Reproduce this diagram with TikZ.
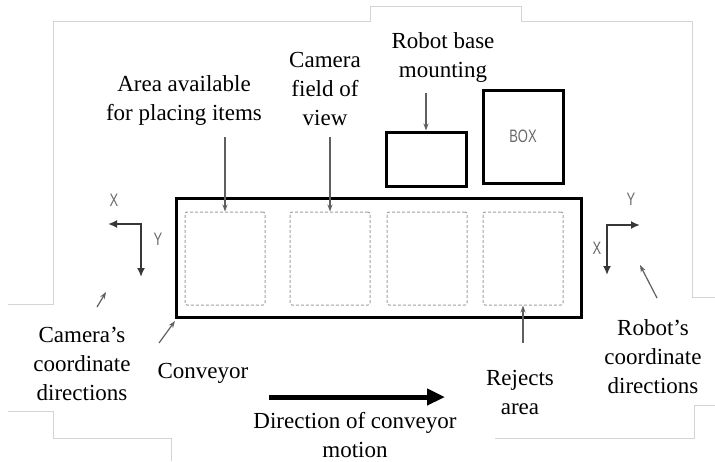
\documentclass[tikz,border=0pt]{standalone}
\usepackage{fontspec}
\setmainfont{Liberation Serif}
\newfontfamily\axisfont{Liberation Sans}
\usetikzlibrary{arrows.meta}
\definecolor{framegray}{RGB}{212,212,212}
\definecolor{axisgray}{RGB}{55,55,55}
\definecolor{leadgray}{RGB}{95,95,95}
\definecolor{lettergray}{RGB}{105,105,105}
\tikzset{
  label text/.style={font=\fontsize{23}{29}\selectfont, align=center, inner sep=0pt},
  heavybox/.style={draw=black, line width=3pt, inner sep=0pt},
  zone/.style={draw=gray!75, line width=1pt, dash pattern=on 3pt off 2pt,
    rounded corners=2pt, inner sep=0pt, minimum width=80pt, minimum height=93pt},
  leader/.style={draw=leadgray, line width=1.2pt, -{Stealth[length=7pt,width=5pt]}},
  axis/.style={draw=axisgray, line width=2.2pt, line cap=rect,
    -{Latex[length=9pt,width=8pt]}},
  axis letter/.style={font=\axisfont\fontsize{18}{18}\selectfont, text=lettergray,
    inner sep=0pt, xscale=0.72, transform shape},
  frame line/.style={draw=framegray, line width=0.8pt},
}
\begin{document}
\begin{tikzpicture}[x=1pt,y=-1pt]
\useasboundingbox (0,0) rectangle (715,461);

% faint outline of the page panels
\draw[frame line] (8,304) -- (53,304) -- (53,21) -- (370,21) -- (370,6) -- (521,6)
  -- (521,21) -- (692,21) -- (692,297) -- (715,297);
\draw[frame line] (8,411) -- (53,411) -- (53,438) -- (171,438) -- (171,461);
\draw[frame line] (715,405) -- (694,405) -- (694,438) -- (495,438);

% conveyor and its four zones
\node[heavybox, minimum width=405pt, minimum height=119pt] (conv) at (378.5,257.5) {};
\node[zone] (sq1) at (225,258.5) {};
\node[zone] (sq2) at (330,258.5) {};
\node[zone] (sq3) at (427,258.5) {};
\node[zone] (sq4) at (523,258.5) {};

% robot base and box
\node[heavybox, minimum width=80pt, minimum height=54pt] (base) at (426,159) {};
\node[heavybox, minimum width=80pt, minimum height=93pt] (box) at (523,136.5) {};
\node[axis letter] (boxtext) at (box.center) {BOX};

% labels
\node[label text] (area) at (184,100) {Area available\\for placing items};
\node[label text] (camera) at (325,89) {Camera\\field of\\view};
\node[label text] (robotbase) at (443,57) {Robot base\\mounting};
\node[label text] (camcoord) at (82,364) {Camera’s\\coordinate\\directions};
\node[label text] (conveyor) at (203,373) {Conveyor};
\node[label text] (rejects) at (520,392) {Rejects\\area};
\node[label text] (robcoord) at (653,357) {Robot’s\\coordinate\\directions};
\node[label text] (direction) at (355,435) {Direction of conveyor\\motion};

% leader arrows
\coordinate (areaLead) at (225,137);
\coordinate (camLead) at (330,137);
\coordinate (baseLead) at (426,93);
\coordinate (rejLead) at (523,343);
\coordinate (convLead) at (159,343);
\coordinate (convTip) at (175,321);
\coordinate (camAxLead) at (97,307);
\coordinate (camAxTip) at (106,292);
\coordinate (robAxLead) at (657,298);
\coordinate (robAxTip) at (640,265);
\draw[leader] (areaLead) -- (sq1.north);
\draw[leader] (camLead) -- (sq2.north);
\draw[leader] (baseLead) -- (base.north);
\draw[leader] (rejLead) -- (sq4.south);
\draw[leader] (convLead) -- (convTip);
\draw[leader] (camAxLead) -- (camAxTip);
\draw[leader] (robAxLead) -- (robAxTip);

% camera axes
\coordinate (camO) at (141,224);
\coordinate (camX) at (108,224);
\coordinate (camY) at (141,277);
\draw[axis] (camO) -- (camX);
\draw[axis] (camO) -- (camY);
\node[axis letter] (camXl) at (114,200) {X};
\node[axis letter] (camYl) at (158,239) {Y};

% robot axes
\coordinate (robO) at (607,225);
\coordinate (robY) at (640,225);
\coordinate (robX) at (607,275);
\draw[axis] (robO) -- (robY);
\draw[axis] (robO) -- (robX);
\node[axis letter] (robYl) at (631,199) {Y};
\node[axis letter] (robXl) at (597,248) {X};

% direction of motion
\coordinate (moveStart) at (269,397);
\coordinate (moveEnd) at (445,397);
\draw[line width=5pt, -{Triangle[length=18pt,width=16pt]}] (moveStart) -- (moveEnd);
\end{tikzpicture}
\end{document}
